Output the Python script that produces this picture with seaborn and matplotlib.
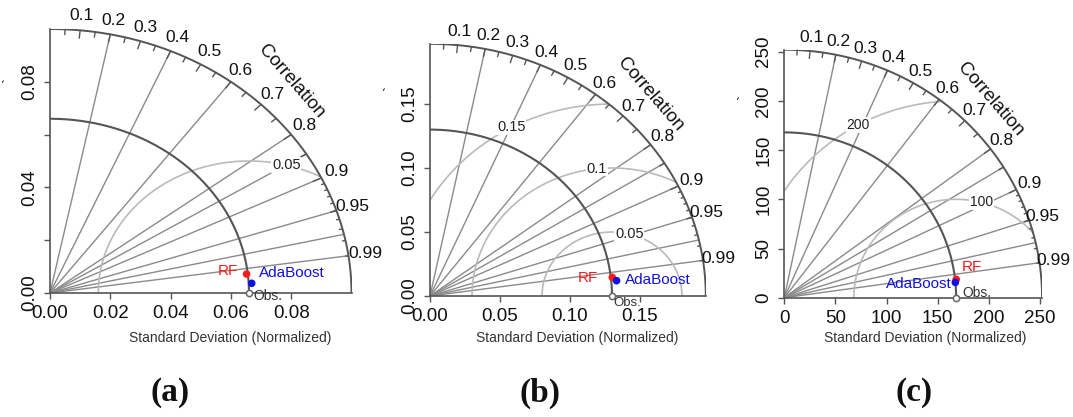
import numpy as np
import matplotlib
matplotlib.use("Agg")
import matplotlib.pyplot as plt
import seaborn as sns
import pandas as pd

# ---------------- data ----------------
panel_labels = ["(a)", "(b)", "(c)"]
max_sd = [0.1, 0.197, 252.0]
obs_sd = [0.066, 0.130, 168.0]
rf_sd = [0.0656, 0.1310, 169.1]
rf_corr = [0.9940, 0.9938, 0.9939]
ada_sd = [0.0670, 0.1338, 167.9]
ada_corr = [0.9985, 0.9960, 0.9957]
rms_levels = [[0.05], [0.05, 0.1, 0.15], [100, 200]]
rms_labels = [["0.05"], ["0.05", "0.1", "0.15"], ["100", "200"]]
x_ticks = [[0, 0.02, 0.04, 0.06, 0.08], [0, 0.05, 0.10, 0.15], [0, 50, 100, 150, 200, 250]]
x_ticklabels = [["0.00", "0.02", "0.04", "0.06", "0.08"], ["0.00", "0.05", "0.10", "0.15"],
                ["0", "50", "100", "150", "200", "250"]]
y_ticks = [[0, 0.02, 0.04, 0.06, 0.08], [0, 0.05, 0.10, 0.15], [0, 50, 100, 150, 200, 250]]
y_ticklabels = [["0.00", "", "0.04", "", "0.08"], ["0.00", "0.05", "0.10", "0.15"],
                ["0", "50", "100", "150", "200", "250"]]
corr_label_values = [0.1, 0.2, 0.3, 0.4, 0.5, 0.6, 0.7, 0.8, 0.9, 0.95, 0.99]
corr_label_texts = ["0.1", "0.2", "0.3", "0.4", "0.5", "0.6", "0.7", "0.8", "0.9", "0.95", "0.99"]
corr_line_values = [0.2, 0.4, 0.6, 0.8, 0.85, 0.9, 0.95, 0.975, 0.99]
model_names = ["RF", "AdaBoost"]
x_label = "Standard Deviation (Normalized)"
corr_title = "Correlation"

# ---------------- layout (pixels) ----------------
W, H = 1073, 417
origins = [(50, 293), (430, 296), (784.3, 297.7)]
scales = [(3015, 2640), (1400, 1280), (1.023, 0.984)]
xlabel_pos = [(230, 338), (577, 338), (925, 338)]
caption_pos = [(170, 393), (540, 393), (914, 393)]
tick_mark_pos = [(9, 80), (390, 88), (744, 97)]
# label offsets in pixels: (dx, dy, ha)
rf_off = [(-9, 3, "right"), (-14, -1, "right"), (6, 12, "left")]
ada_off = [(7, 10, "left"), (8, 1, "left"), (-4, -2, "right")]
obs_off = [(4, -3, "left"), (1, -7, "left"), (6, 5, "left")]

sns.set_theme(style="white")
plt.rcParams["font.family"] = ["Liberation Sans", "DejaVu Sans"]

fig = plt.figure(figsize=(W / 100, H / 100), dpi=100)

dark = "#555555"
mid = "#8a8a8a"
light = "#bababa"

for i in range(3):
    ox, oy = origins[i]
    sx, sy = scales[i]
    m = max_sd[i]
    ax = fig.add_axes([ox / W, (H - oy) / H, m * sx / W, m * sy / H])
    ax.set_xlim(0, m)
    ax.set_ylim(0, m)
    for s in ["top", "right"]:
        ax.spines[s].set_visible(False)
    for s in ["left", "bottom"]:
        ax.spines[s].set_color(dark)
        ax.spines[s].set_linewidth(1.2)

    # correlation grid lines
    for c in corr_line_values:
        ax.plot([0, m * c], [0, m * np.sqrt(1 - c * c)], color=mid, lw=1.0, zorder=1)

    # RMS contours
    t = np.linspace(0, np.pi, 600)
    n = len(rms_levels[i])
    lpos = [45] if n == 1 else list(np.floor(np.linspace(45, 70, n)).astype(int))
    for g, lab, lp in zip(rms_levels[i], rms_labels[i], lpos):
        xc = obs_sd[i] + g * np.cos(t)
        yc = g * np.sin(t)
        ok = (xc >= 0) & (xc ** 2 + yc ** 2 <= m ** 2)
        df = pd.DataFrame({"x": np.where(ok, xc, np.nan), "y": np.where(ok, yc, np.nan)})
        ax.plot(df["x"], df["y"], color=light, lw=1.2, zorder=1)
        tl = (lp - 1) * 0.03
        ax.text(obs_sd[i] + g * np.cos(tl), g * np.sin(tl), lab, fontsize=10.5 if i < 2 else 10,
                color="#222222", ha="center", va="center", zorder=3,
                bbox=dict(boxstyle="square,pad=0.05", fc="white", ec="none"))

    # outer arc and reference arc
    ang = np.linspace(0, np.pi / 2, 300)
    arc = pd.DataFrame({"x": m * np.cos(ang), "y": m * np.sin(ang)})
    sns.lineplot(data=arc, x="x", y="y", sort=False, estimator=None, color=dark, lw=1.4, ax=ax, zorder=2)
    ref = pd.DataFrame({"x": obs_sd[i] * np.cos(ang), "y": obs_sd[i] * np.sin(ang)})
    sns.lineplot(data=ref, x="x", y="y", sort=False, estimator=None, color=dark, lw=1.5, ax=ax, zorder=2)

    # arc ticks
    for vals, frac in [(np.arange(1, 10) / 10, 0.97), (np.arange(0.05, 0.96, 0.1), 0.98),
                       (np.arange(91, 100) / 100, 0.99)]:
        for c in vals:
            sn = np.sqrt(1 - c * c)
            ax.plot([m * c, m * c * frac], [m * sn, m * sn * frac], color=dark, lw=1.0, zorder=2,
                    clip_on=False)

    # correlation labels
    for c, txt in zip(corr_label_values, corr_label_texts):
        sn = np.sqrt(1 - c * c)
        ax.text(1.055 * m * c, 1.055 * m * sn, txt, fontsize=12.5, ha="center", va="center",
                color="#111111", clip_on=False)
    ax.text(0.8 * m, 0.8 * m, corr_title, fontsize=13.5, rotation=-49, ha="center", va="center",
            color="#111111", rotation_mode="anchor")

    # model points
    pts = pd.DataFrame({
        "model": model_names,
        "x": [rf_sd[i] * rf_corr[i], ada_sd[i] * ada_corr[i]],
        "y": [rf_sd[i] * np.sqrt(1 - rf_corr[i] ** 2), ada_sd[i] * np.sqrt(1 - ada_corr[i] ** 2)],
    })
    sns.scatterplot(data=pts, x="x", y="y", hue="model", palette={"RF": "#ff1a1a", "AdaBoost": "#1010e0"},
                    s=30, edgecolor="none", legend=False, ax=ax, zorder=5, clip_on=False)
    ax.scatter([obs_sd[i]], [0], s=20, facecolor="white", edgecolor="#666666", lw=1.1, zorder=5,
               clip_on=False)

    for (px, py), off, name, col in [((pts.x[0], pts.y[0]), rf_off[i], "RF", "#ff1a1a"),
                                     ((pts.x[1], pts.y[1]), ada_off[i], "AdaBoost", "#1010e0")]:
        ax.annotate(name, (px, py), xytext=(off[0], off[1]), textcoords="offset pixels",
                    ha=off[2], va="center", fontsize=11, color=col, zorder=6)
    ax.annotate("Obs.", (obs_sd[i], 0), xytext=(obs_off[i][0], obs_off[i][1]), textcoords="offset pixels",
                ha=obs_off[i][2], va="center", fontsize=10 if i != 1 else 9.5, color="#333333",
                annotation_clip=False, zorder=6)

    # axes ticks
    ax.set_xticks(x_ticks[i])
    ax.set_xticklabels(x_ticklabels[i])
    ax.set_yticks(y_ticks[i])
    ax.set_yticklabels(y_ticklabels[i], rotation=90, va="center")
    ax.tick_params(axis="both", direction="out", length=4.5, width=1.0, color=dark,
                   labelsize=13.5, pad=4, labelcolor="#111111", bottom=True, left=True)
    ax.set_xlabel("")
    ax.set_ylabel("")

    fig.text(xlabel_pos[i][0] / W, 1 - xlabel_pos[i][1] / H, x_label, fontsize=10,
             ha="center", va="center", color="#333333")
    fig.text(tick_mark_pos[i][0] / W, 1 - tick_mark_pos[i][1] / H, "`", fontsize=11,
             ha="center", va="center", rotation=90, color="#111111")
    fig.text(caption_pos[i][0] / W, 1 - caption_pos[i][1] / H, panel_labels[i], fontsize=24,
             fontweight="bold", family=["Liberation Serif", "DejaVu Serif"], ha="center", va="center",
             color="#111111")

fig.savefig("out.png", dpi=100, facecolor="white")
